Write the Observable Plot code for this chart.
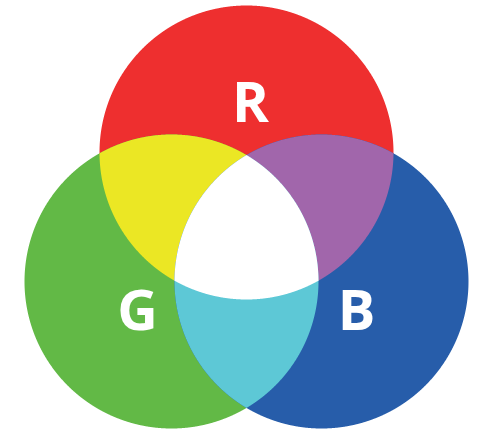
<!DOCTYPE html>
<html>
<head>
<meta charset="utf-8">
<script src="https://cdn.jsdelivr.net/npm/d3@7"></script>
<script src="https://cdn.jsdelivr.net/npm/@observablehq/plot@0.6"></script>
<style>
html,body{margin:0;padding:0;background:#fff;}
</style>
</head>
<body>
<div id="chart"></div>
<script>
// Circles (in pixel-like data units)
const circleNames = ["R", "G", "B"];
const circleCX = [246, 171, 321];
const circleCY = [152, 281, 281];
const circleR = [147, 147, 147];

// Region colours: single circles, pairwise overlaps, triple overlap
const regionSets = [["R"], ["G"], ["B"], ["R","G"], ["R","B"], ["G","B"], ["R","G","B"]];
const regionColors = ["#EE2F2F", "#62B946", "#275DAA", "#EBE724", "#A166AB", "#5DC8D6", "#FFFFFF"];

// Labels
const labels = ["R", "G", "B"];
const labelX = [250, 137, 356];
const labelY = [121, 329, 329];

const circles = circleNames.map((n, i) => ({name: n, x: circleCX[i], y: circleCY[i], r: circleR[i]}));
const byName = Object.fromEntries(circles.map(c => [c.name, c]));

function inside(c, p, eps = 1e-6) {
  return Math.hypot(p[0] - c.x, p[1] - c.y) <= c.r + eps;
}
function intersections(a, b) {
  const dx = b.x - a.x, dy = b.y - a.y, d = Math.hypot(dx, dy);
  if (d > a.r + b.r || d < Math.abs(a.r - b.r)) return [];
  const l = (a.r * a.r - b.r * b.r + d * d) / (2 * d);
  const h = Math.sqrt(Math.max(0, a.r * a.r - l * l));
  const mx = a.x + l * dx / d, my = a.y + l * dy / d;
  return [[mx + h * dy / d, my - h * dx / d], [mx - h * dy / d, my + h * dx / d]];
}
function regionPolygon(names) {
  const cs = names.map(n => byName[n]);
  const pts = [];
  const N = 2880;
  for (const c of cs) {
    for (let k = 0; k < N; k++) {
      const t = 2 * Math.PI * k / N;
      const p = [c.x + c.r * Math.cos(t), c.y + c.r * Math.sin(t)];
      if (cs.every(o => o === c || inside(o, p))) pts.push(p);
    }
  }
  for (let i = 0; i < cs.length; i++)
    for (let j = i + 1; j < cs.length; j++)
      for (const p of intersections(cs[i], cs[j]))
        if (cs.every(o => inside(o, p, 1e-3))) pts.push(p);
  const hull = d3.polygonHull(pts);
  return hull.map(p => ({x: p[0], y: p[1]}));
}

const marks = regionSets.map((set, i) =>
  Plot.line(regionPolygon(set), {x: "x", y: "y", fill: regionColors[i], stroke: "none", curve: "linear-closed"})
);

const labelData = labels.map((t, i) => ({text: t, x: labelX[i], y: labelY[i]}));
marks.push(Plot.text(labelData, {
  x: "x", y: "y", text: "text", fill: "white",
  fontSize: 56, fontWeight: "bold", fontFamily: "Open Sans",
  textAnchor: "middle", lineAnchor: "bottom"
}));

const chart = Plot.plot({
  width: 478, height: 432,
  margin: 0,
  x: {domain: [0, 478], range: [0, 478], axis: null},
  y: {domain: [0, 432], range: [0, 432], axis: null},
  style: {background: "white"},
  marks
});
document.getElementById("chart").appendChild(chart);
</script>
</body>
</html>
